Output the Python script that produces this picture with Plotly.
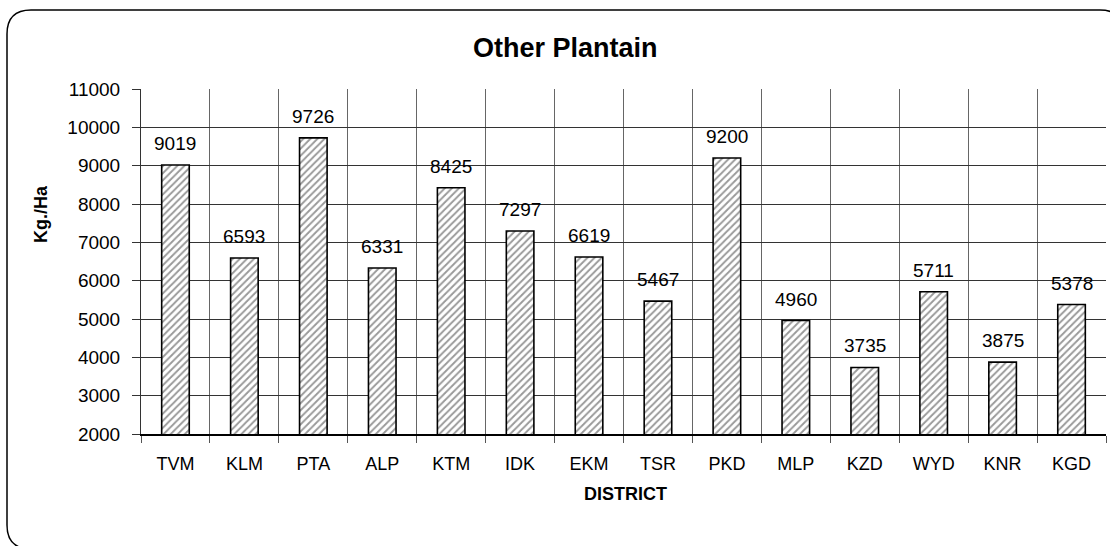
import plotly.graph_objects as go

# Yield of other plantain by district (Kg./Ha)
districts = ["TVM", "KLM", "PTA", "ALP", "KTM", "IDK", "EKM", "TSR",
             "PKD", "MLP", "KZD", "WYD", "KNR", "KGD"]
yield_kg_ha = [9019, 6593, 9726, 6331, 8425, 7297, 6619, 5467,
               9200, 4960, 3735, 5711, 3875, 5378]

W, H = 1110, 546
L, R, T, B = 141, 4, 89, 112
PW, PH = W - L - R, H - T - B

FONT = "Liberation Sans, Arial, Helvetica, sans-serif"


def px_x(p):
    return (p - L) / PW


def px_y(p):
    return (H - B - p) / PH


fig = go.Figure()
fig.add_trace(go.Bar(
    x=districts,
    y=yield_kg_ha,
    width=0.4,
    marker=dict(
        color="white",
        line=dict(color="black", width=1.6),
        pattern=dict(shape="/", fgcolor="#333333", bgcolor="white",
                     size=5, solidity=0.38),
    ),
    hoverinfo="x+y",
))

annotations = []
for d, v in zip(districts, yield_kg_ha):
    annotations.append(dict(
        x=d, y=v, xref="x", yref="y", text=str(v), showarrow=False,
        xanchor="center", yanchor="bottom", yshift=9,
        font=dict(family=FONT, size=19, color="black"),
    ))

annotations += [
    dict(x=px_x(565), y=px_y(48), xref="paper", yref="paper",
         xanchor="center", yanchor="middle",
         text="<b>Other Plantain</b>", showarrow=False,
         font=dict(family=FONT, size=27, color="black")),
    dict(x=px_x(41), y=px_y(214), xref="paper", yref="paper",
         xanchor="center", yanchor="middle",
         text="<b>Kg./Ha</b>", textangle=-90, showarrow=False,
         font=dict(family=FONT, size=18, color="black")),
    dict(x=px_x(625), y=px_y(494), xref="paper", yref="paper",
         xanchor="center", yanchor="middle",
         text="<b>DISTRICT</b>", showarrow=False,
         font=dict(family=FONT, size=18, color="black")),
]

# Rounded outer frame
x0, y0, x1, y1, r = 7, 10, 1124, 549, 24
path = (
    f"M {px_x(x0)},{px_y(y0 + r)} "
    f"Q {px_x(x0)},{px_y(y0)} {px_x(x0 + r)},{px_y(y0)} "
    f"L {px_x(x1 - r)},{px_y(y0)} "
    f"Q {px_x(x1)},{px_y(y0)} {px_x(x1)},{px_y(y0 + r)} "
    f"L {px_x(x1)},{px_y(y1 - r)} "
    f"Q {px_x(x1)},{px_y(y1)} {px_x(x1 - r)},{px_y(y1)} "
    f"L {px_x(x0 + r)},{px_y(y1)} "
    f"Q {px_x(x0)},{px_y(y1)} {px_x(x0)},{px_y(y1 - r)} Z"
)

fig.update_layout(
    width=W, height=H,
    margin=dict(l=L, r=R, t=T, b=B, pad=0),
    paper_bgcolor="white", plot_bgcolor="white",
    showlegend=False,
    font=dict(family=FONT, size=18, color="black"),
    annotations=annotations,
    shapes=[dict(type="path", path=path, xref="paper", yref="paper",
                 line=dict(color="black", width=1.5), layer="above")],
    xaxis=dict(
        type="category",
        tickson="boundaries",
        ticks="outside", ticklen=7, tickcolor="#555555", tickwidth=1,
        showgrid=True, gridcolor="#666666", gridwidth=1,
        showline=True, linecolor="black", linewidth=1.5,
        ticklabelstandoff=13,
        tickfont=dict(family=FONT, size=18, color="black"),
        range=[-0.5, len(districts) - 0.5],
        fixedrange=True,
    ),
    yaxis=dict(
        range=[2000, 11000], dtick=1000, tick0=2000, tickformat="d",
        ticks="outside", ticklen=8, tickcolor="#333333", tickwidth=1,
        showgrid=True, gridcolor="#333333", gridwidth=1,
        showline=True, linecolor="#333333", linewidth=1,
        zeroline=False,
        ticklabelstandoff=8,
        tickfont=dict(family=FONT, size=19, color="black"),
        fixedrange=True,
    ),
)

fig.write_html("out.html")
